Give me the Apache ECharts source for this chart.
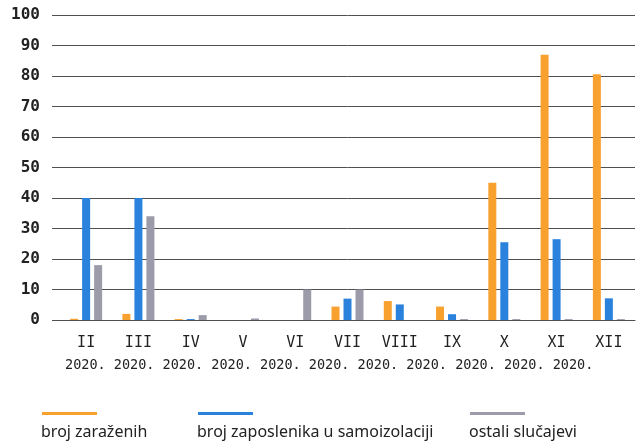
<!DOCTYPE html>
<html>
<head>
<meta charset="utf-8">
<style>
  html, body { margin: 0; padding: 0; background: #ffffff; }
  #chart { width: 641px; height: 445px; }
</style>
<script src="https://cdn.jsdelivr.net/npm/echarts@6/dist/echarts.min.js"></script>
</head>
<body>
<div id="chart"></div>
<script>
// Months (Roman numerals) of 2020
const months = ['II', 'III', 'IV', 'V', 'VI', 'VII', 'VIII', 'IX', 'X', 'XI', 'XII'];
const yearLabel = '2020.';

// Series names and values per month
const seriesNames = ['broj zaraženih', 'broj zaposlenika u samoizolaciji', 'ostali slučajevi'];
const infected   = [0.4, 2, 0.3, 0, 0, 4.4, 6.2, 4.4, 45, 87, 80.6];
const isolated   = [40, 40, 0.3, 0, 0, 7, 5.1, 1.9, 25.5, 26.5, 7.1];
const otherCases = [18, 34, 1.6, 0.5, 10, 10, 0, 0.3, 0.3, 0.3, 0.3];

// Value axis ticks
const yTicks = [0, 10, 20, 30, 40, 50, 60, 70, 80, 90, 100];

const colors = ['#F9A12E', '#2A82DD', '#9C9BAA'];
const seriesData = [infected, isolated, otherCases];

// Year line under the month names, set as one running monospace row
const yearRow = months.map(function () { return yearLabel; }).join(' ');

const graphics = [{
  type: 'text',
  left: 65, top: 358,
  style: { text: yearRow, fill: '#222', font: '13.5px "DejaVu Sans Mono"' }
}];

// Legend: a short line above each name
const legendX = [42, 198, 470];
seriesNames.forEach(function (name, i) {
  graphics.push({
    type: 'rect',
    left: legendX[i], top: 412,
    shape: { width: 55, height: 3 },
    style: { fill: colors[i] }
  });
  graphics.push({
    type: 'text',
    left: legendX[i] - 1, top: 424,
    style: { text: name, fill: '#222', font: '16px "Noto Sans"' }
  });
});

const chart = echarts.init(document.getElementById('chart'));
chart.setOption({
  animation: false,
  grid: { left: 60, right: 6, top: 15, bottom: 125 },
  xAxis: {
    type: 'category',
    data: months,
    axisLine: { show: true, lineStyle: { color: '#505050', width: 1 } },
    axisTick: { show: false },
    axisLabel: {
      margin: 16,
      interval: 0,
      fontFamily: 'DejaVu Sans Mono',
      fontSize: 15,
      color: '#222'
    }
  },
  yAxis: {
    type: 'value',
    min: yTicks[0],
    max: yTicks[yTicks.length - 1],
    interval: yTicks[1] - yTicks[0],
    axisLine: { show: false },
    axisTick: { show: true, length: 8, lineStyle: { color: '#505050' } },
    splitLine: { lineStyle: { color: '#505050', width: 1 } },
    axisLabel: {
      margin: 20,
      fontFamily: 'DejaVu Sans Mono',
      fontWeight: 'bold',
      fontSize: 16,
      color: '#222'
    }
  },
  series: seriesNames.map(function (name, i) {
    return {
      name: name,
      type: 'bar',
      data: seriesData[i],
      barWidth: 8,
      barGap: '50%',
      itemStyle: { color: colors[i] }
    };
  }),
  graphic: graphics
});
</script>
</body>
</html>
